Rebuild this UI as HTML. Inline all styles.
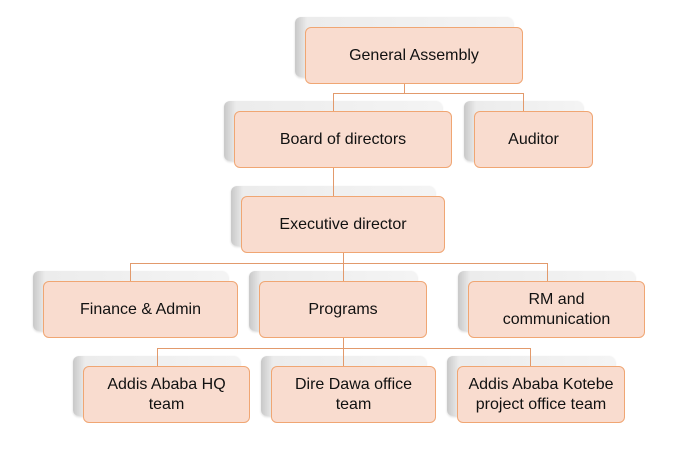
<!DOCTYPE html>
<html><head><style>
body{margin:0;width:679px;height:454px;background:#fff;position:relative;overflow:hidden;font-family:"Liberation Sans",sans-serif}
.s{position:absolute;border-radius:6px;background:linear-gradient(to right,#c8c8c8 0,#ececec 12px,#f4f4f4 100%);box-shadow:0 1px 2px rgba(0,0,0,.15)}
.b{position:absolute;border:1.5px solid #f0a673;border-radius:6px;background:#f9dccf;display:flex;align-items:center;justify-content:center;text-align:center;font-size:16px;line-height:20px;color:#111;box-sizing:border-box}
.l{position:absolute;background:#e29a6c}
</style></head><body>
<div class="s" style="left:295px;top:17px;width:218px;height:60px"></div>
<div class="s" style="left:224px;top:101px;width:218px;height:60px"></div>
<div class="s" style="left:464px;top:101px;width:119px;height:60px"></div>
<div class="s" style="left:231px;top:186px;width:204px;height:60px"></div>
<div class="s" style="left:33px;top:271px;width:195px;height:60px"></div>
<div class="s" style="left:249px;top:271px;width:168px;height:60px"></div>
<div class="s" style="left:458px;top:271px;width:177px;height:60px"></div>
<div class="s" style="left:73px;top:356px;width:167px;height:60px"></div>
<div class="s" style="left:261px;top:356px;width:165px;height:60px"></div>
<div class="s" style="left:447px;top:356px;width:168px;height:60px"></div>

<div class="l" style="left:404px;top:84px;width:1px;height:10px"></div>
<div class="l" style="left:333px;top:93px;width:191px;height:1px"></div>
<div class="l" style="left:333px;top:93px;width:1px;height:18px"></div>
<div class="l" style="left:523px;top:93px;width:1px;height:18px"></div>
<div class="l" style="left:333px;top:168px;width:1px;height:28px"></div>
<div class="l" style="left:343px;top:253px;width:1px;height:10px"></div>
<div class="l" style="left:130px;top:263px;width:418px;height:1px"></div>
<div class="l" style="left:130px;top:263px;width:1px;height:18px"></div>
<div class="l" style="left:343px;top:263px;width:1px;height:18px"></div>
<div class="l" style="left:547px;top:263px;width:1px;height:18px"></div>
<div class="l" style="left:343px;top:338px;width:1px;height:28px"></div>
<div class="l" style="left:157px;top:348px;width:374px;height:1px"></div>
<div class="l" style="left:157px;top:348px;width:1px;height:18px"></div>
<div class="l" style="left:530px;top:348px;width:1px;height:18px"></div>

<div class="b" style="left:305px;top:27px;width:218px;height:57px">General Assembly</div>
<div class="b" style="left:234px;top:111px;width:218px;height:57px">Board of directors</div>
<div class="b" style="left:474px;top:111px;width:119px;height:57px">Auditor</div>
<div class="b" style="left:241px;top:196px;width:204px;height:57px">Executive director</div>
<div class="b" style="left:43px;top:281px;width:195px;height:57px">Finance &amp; Admin</div>
<div class="b" style="left:259px;top:281px;width:168px;height:57px">Programs</div>
<div class="b" style="left:468px;top:281px;width:177px;height:57px">RM and<br>communication</div>
<div class="b" style="left:83px;top:366px;width:167px;height:57px">Addis Ababa HQ<br>team</div>
<div class="b" style="left:271px;top:366px;width:165px;height:57px">Dire Dawa office<br>team</div>
<div class="b" style="left:457px;top:366px;width:168px;height:57px">Addis Ababa Kotebe<br>project office team</div>
</body></html>
